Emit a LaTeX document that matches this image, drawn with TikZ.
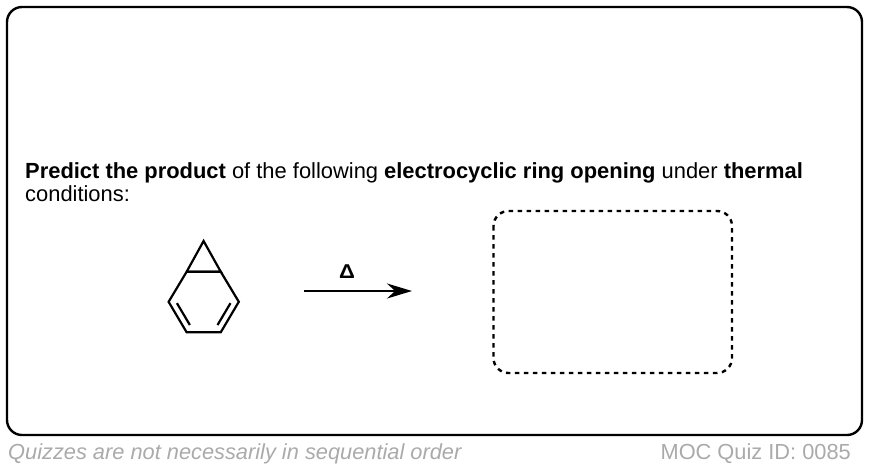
\documentclass[tikz,border=0pt]{standalone}
\usepackage{fontspec}
\setmainfont{Liberation Sans}
\usetikzlibrary{arrows.meta,calc}
\definecolor{footgray}{RGB}{170,170,170}
\begin{document}
\begin{tikzpicture}[x=1pt,y=-1pt,
  frame/.style={line width=2.4pt,rounded corners=15pt},
  answerbox/.style={line width=2.4pt,rounded corners=15pt,dash pattern=on 4.5pt off 4.5pt},
  bond/.style={line width=2.2pt,line join=miter,line cap=butt},
  rxnarrow/.style={line width=2.2pt,-{Stealth[length=25pt,width=15pt]}},
  qtext/.style={font=\fontsize{21.9}{24}\selectfont,anchor=base west,inner sep=0pt},
  foot/.style={font=\fontsize{21.8}{24}\selectfont,text=footgray,inner sep=0pt}]
\useasboundingbox (0,0) rectangle (870,472);
\draw[frame] (7,7) rectangle (862,435);
\node[qtext] (q1) at (25,178.5) {\textbf{Predict the product} of the following \textbf{electrocyclic ring opening} under \textbf{thermal}};
\node[qtext] (q2) at (25,201) {conditions:};
% molecule
\coordinate (ap) at (203.6,241);
\coordinate (tl) at (186.6,271.8);
\coordinate (tr) at (220.8,271.8);
\coordinate (r) at (238.8,301.8);
\coordinate (br) at (220.8,332.2);
\coordinate (bl) at (186.6,332.2);
\coordinate (l) at (168.6,301.8);
\draw[bond] (tl) -- (ap) -- (tr) -- (tl);
\draw[bond] (tl) -- (tr) -- (r) -- (br) -- (bl) -- (l) -- cycle;
\draw[bond] ($(l)!0.15!(bl)+(5.6,-3.25)$) -- ($(l)!0.87!(bl)+(5.6,-3.25)$);
\draw[bond] ($(r)!0.15!(br)+(-5.6,-3.25)$) -- ($(r)!0.87!(br)+(-5.6,-3.25)$);
% arrow
\coordinate (a1) at (304,291);
\coordinate (a2) at (412,291);
\draw[rxnarrow] (a1) -- (a2);
\node[font=\fontsize{20}{22}\selectfont\bfseries,anchor=base,inner sep=0pt] (delta) at (347,278) {\scalebox{1.1}[1]{Δ}};
% answer box
\draw[answerbox] (493.5,211) rectangle (732,373);
% footer
\node[foot,anchor=base west] (f1) at (8,459) {\itshape Quizzes are not necessarily in sequential order};
\node[foot,anchor=base east] (f2) at (851,459) {MOC Quiz ID: 0085};
\end{tikzpicture}
\end{document}
